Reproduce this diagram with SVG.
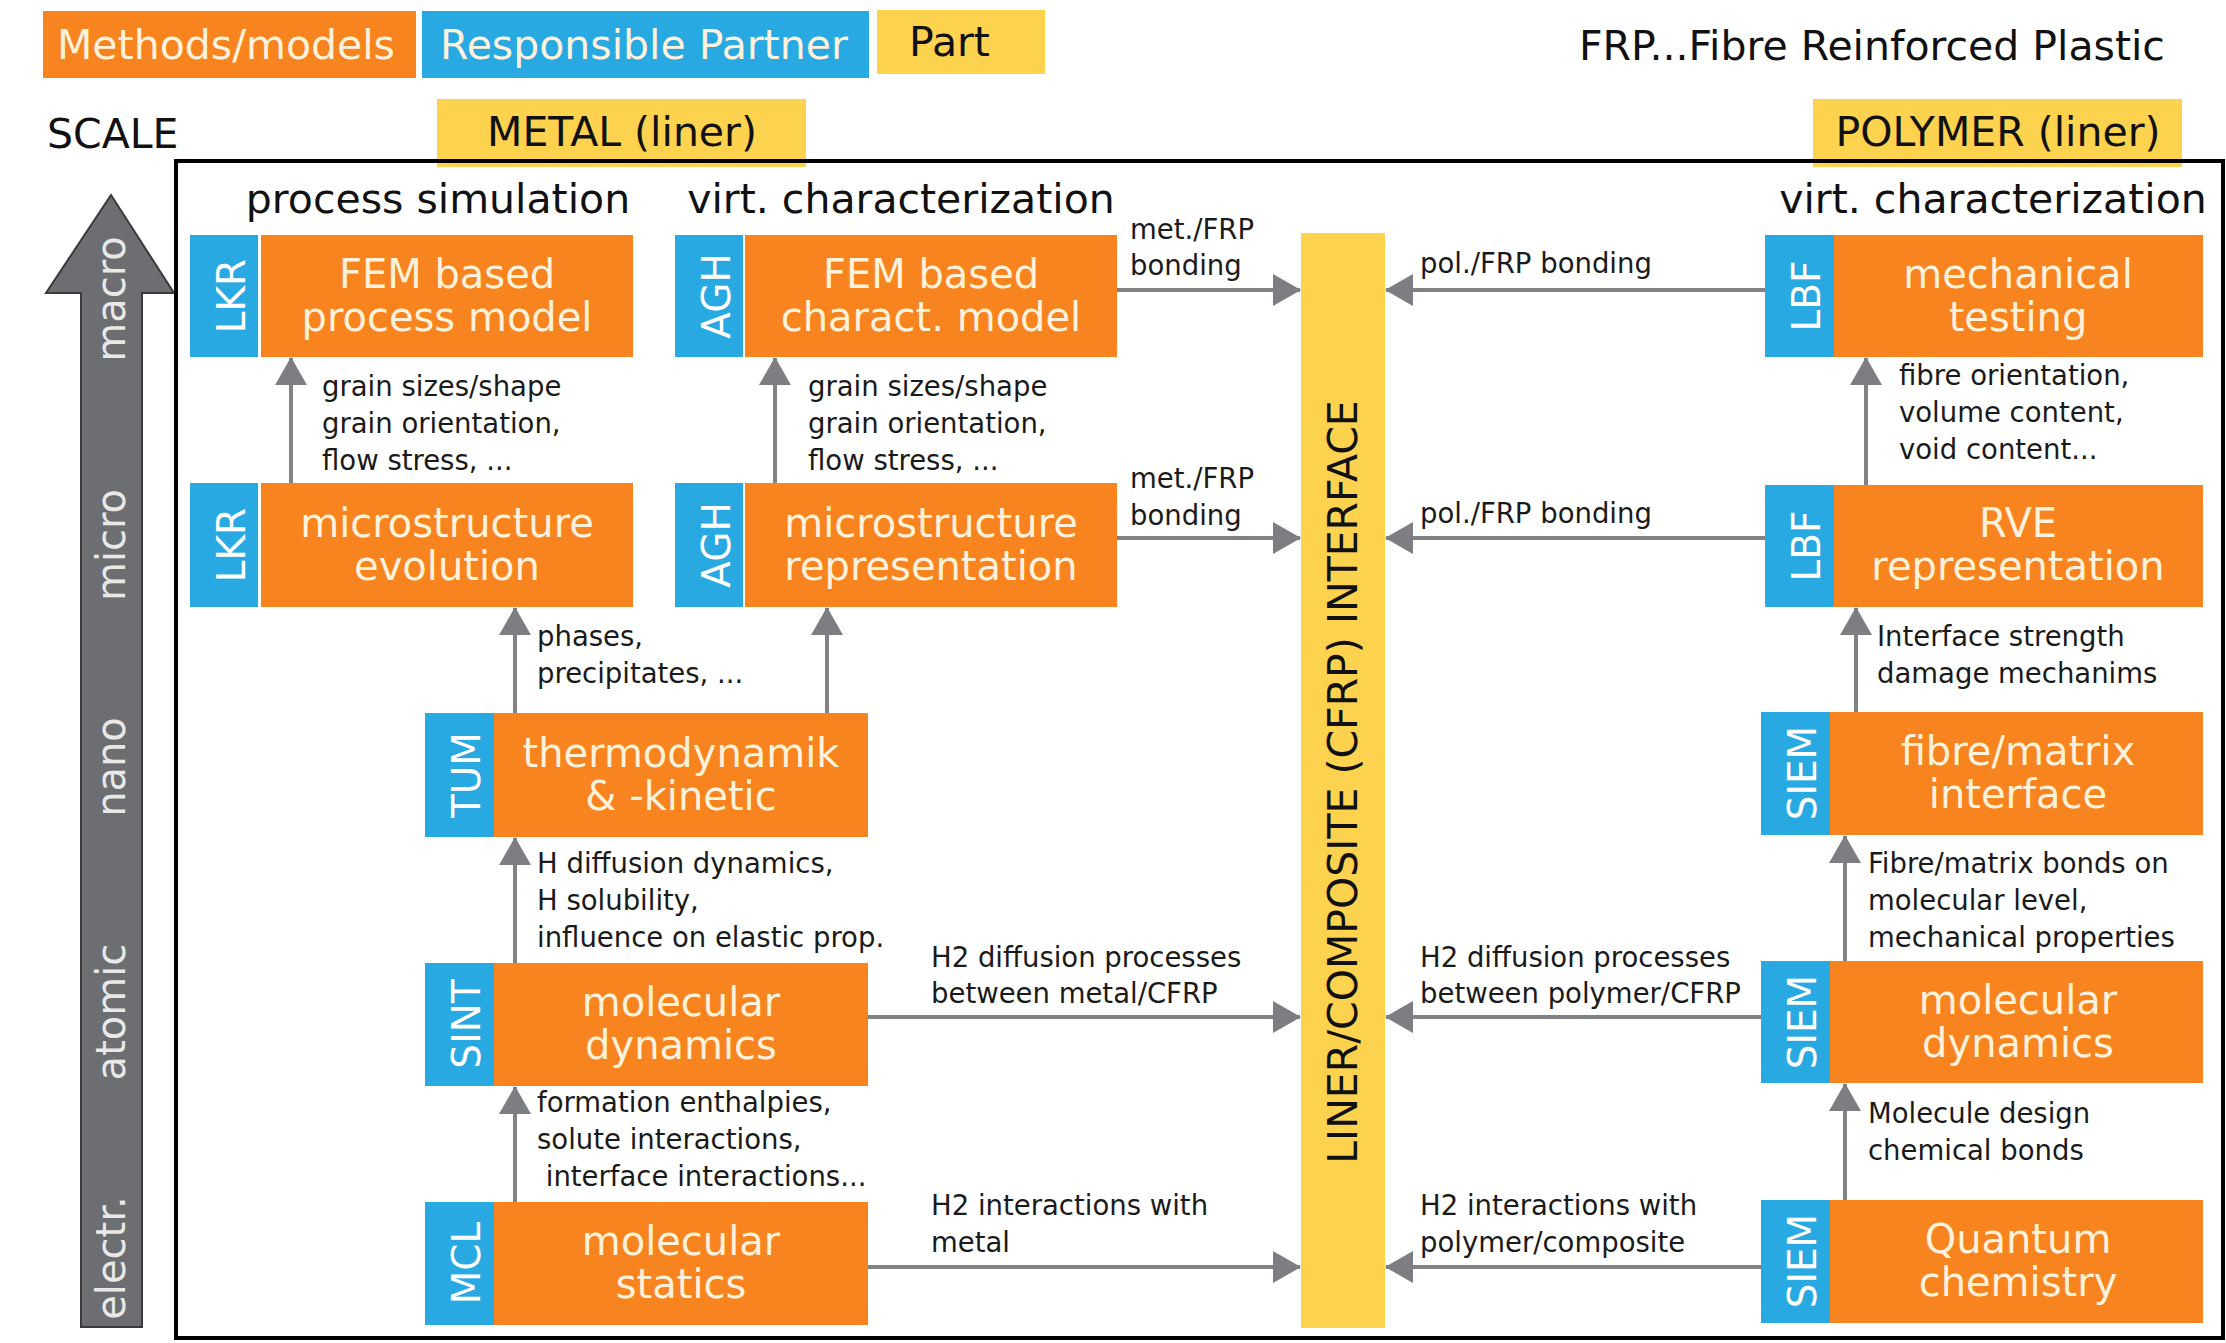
<svg xmlns="http://www.w3.org/2000/svg" width="2226" height="1343" viewBox="0 0 2226 1343">
<style>
text{font-family:"DejaVu Sans","Liberation Sans",sans-serif}
.or{fill:#f7841f}
.bl{fill:#29a9e1}
.ye{fill:#fdd24f}
.nt{font-size:40px;fill:#fff2dc;text-anchor:middle}
.tg{font-size:39px;fill:#ffffff;text-anchor:middle}
.lg{font-size:41px;fill:#fff2dc}
.hd{font-size:41px;fill:#111}
.lb{font-size:27.5px;fill:#1a1a1a}
.sc{font-size:40px;fill:#e8e8e8;text-anchor:middle}
.cn{stroke:#808285;stroke-width:4;fill:none}
</style>
<defs>
<marker id="ah" markerUnits="userSpaceOnUse" markerWidth="28" markerHeight="32" viewBox="0 0 28 32" refX="27" refY="16" orient="auto">
<path d="M0,0 L28,16 L0,32 Z" fill="#7c7e82"/>
</marker>
</defs>

<g id="legend">
<rect class="or" x="43" y="11" width="373" height="67"/>
<text class="lg" x="57" y="59">Methods/models</text>
<rect class="bl" x="422" y="11" width="447" height="67"/>
<text class="lg" x="440" y="59">Responsible Partner</text>
<rect class="ye" x="877" y="10" width="168" height="64"/>
<text class="hd" x="909" y="56">Part</text>
<text class="hd" x="1579" y="60">FRP...Fibre Reinforced Plastic</text>
</g>

<g id="scale">
<text class="hd" x="47" y="148">SCALE</text>
<polygon points="111,195 174,293 142,293 142,1327 81,1327 81,293 46,293" fill="#6d6e71" stroke="#3a3a3a" stroke-width="2"/>
<text class="sc" transform="translate(125,299) rotate(-90)">macro</text>
<text class="sc" transform="translate(125,545) rotate(-90)">micro</text>
<text class="sc" transform="translate(125,767) rotate(-90)">nano</text>
<text class="sc" transform="translate(125,1012) rotate(-90)">atomic</text>
<text class="sc" transform="translate(125,1258) rotate(-90)">electr.</text>
</g>

<g id="parts">
<rect class="ye" x="437" y="99" width="369" height="68"/>
<text class="hd" x="622" y="146" text-anchor="middle">METAL (liner)</text>
<rect class="ye" x="1813" y="99" width="369" height="68"/>
<text class="hd" x="1998" y="146" text-anchor="middle">POLYMER (liner)</text>
</g>

<rect id="frame" x="176" y="161" width="2047" height="1177" fill="none" stroke="#000" stroke-width="4"/>

<g id="headers">
<text class="hd" x="438" y="213" text-anchor="middle">process simulation</text>
<text class="hd" x="901" y="213" text-anchor="middle">virt. characterization</text>
<text class="hd" x="1993" y="213" text-anchor="middle">virt. characterization</text>
</g>

<g id="interface">
<rect class="ye" x="1301" y="233" width="84" height="1095"/>
<text class="hd" text-anchor="middle" transform="translate(1357,782) rotate(-90)">LINER/COMPOSITE (CFRP) INTERFACE</text>
</g>

<g id="lkr-fem">
<rect class="bl" x="190" y="235" width="68" height="122"/>
<text class="tg" transform="translate(245,296) rotate(-90)">LKR</text>
<rect class="or" x="261" y="235" width="372" height="122"/>
<text class="nt" x="447" y="288">FEM based</text>
<text class="nt" x="447" y="331">process model</text>
</g>
<g id="agh-fem">
<rect class="bl" x="675" y="235" width="68" height="122"/>
<text class="tg" transform="translate(730,296) rotate(-90)">AGH</text>
<rect class="or" x="745" y="235" width="372" height="122"/>
<text class="nt" x="931" y="288">FEM based</text>
<text class="nt" x="931" y="331">charact. model</text>
</g>
<g id="lbf-mech">
<rect class="bl" x="1765" y="235" width="69" height="122"/>
<text class="tg" transform="translate(1820,296) rotate(-90)">LBF</text>
<rect class="or" x="1834" y="235" width="369" height="122"/>
<text class="nt" x="2018" y="288">mechanical</text>
<text class="nt" x="2018" y="331">testing</text>
</g>

<g id="lkr-micro">
<rect class="bl" x="190" y="483" width="68" height="124"/>
<text class="tg" transform="translate(245,545) rotate(-90)">LKR</text>
<rect class="or" x="261" y="483" width="372" height="124"/>
<text class="nt" x="447" y="537">microstructure</text>
<text class="nt" x="447" y="580">evolution</text>
</g>
<g id="agh-micro">
<rect class="bl" x="675" y="483" width="68" height="124"/>
<text class="tg" transform="translate(730,545) rotate(-90)">AGH</text>
<rect class="or" x="745" y="483" width="372" height="124"/>
<text class="nt" x="931" y="537">microstructure</text>
<text class="nt" x="931" y="580">representation</text>
</g>
<g id="lbf-rve">
<rect class="bl" x="1765" y="485" width="69" height="122"/>
<text class="tg" transform="translate(1820,546) rotate(-90)">LBF</text>
<rect class="or" x="1834" y="485" width="369" height="122"/>
<text class="nt" x="2018" y="537">RVE</text>
<text class="nt" x="2018" y="580">representation</text>
</g>

<g id="tum">
<rect class="bl" x="425" y="713" width="69" height="124"/>
<text class="tg" transform="translate(480,775) rotate(-90)">TUM</text>
<rect class="or" x="494" y="713" width="374" height="124"/>
<text class="nt" x="681" y="767">thermodynamik</text>
<text class="nt" x="681" y="810">&amp; -kinetic</text>
</g>
<g id="siem-fm">
<rect class="bl" x="1761" y="712" width="69" height="123"/>
<text class="tg" transform="translate(1816,773) rotate(-90)">SIEM</text>
<rect class="or" x="1830" y="712" width="373" height="123"/>
<text class="nt" x="2018" y="765">fibre/matrix</text>
<text class="nt" x="2018" y="808">interface</text>
</g>

<g id="sint">
<rect class="bl" x="425" y="963" width="69" height="123"/>
<text class="tg" transform="translate(480,1024) rotate(-90)">SINT</text>
<rect class="or" x="494" y="963" width="374" height="123"/>
<text class="nt" x="681" y="1016">molecular</text>
<text class="nt" x="681" y="1059">dynamics</text>
</g>
<g id="siem-md">
<rect class="bl" x="1761" y="961" width="69" height="122"/>
<text class="tg" transform="translate(1816,1022) rotate(-90)">SIEM</text>
<rect class="or" x="1830" y="961" width="373" height="122"/>
<text class="nt" x="2018" y="1014">molecular</text>
<text class="nt" x="2018" y="1057">dynamics</text>
</g>

<g id="mcl">
<rect class="bl" x="425" y="1202" width="69" height="123"/>
<text class="tg" transform="translate(480,1263) rotate(-90)">MCL</text>
<rect class="or" x="494" y="1202" width="374" height="123"/>
<text class="nt" x="681" y="1255">molecular</text>
<text class="nt" x="681" y="1298">statics</text>
</g>
<g id="siem-qc">
<rect class="bl" x="1761" y="1200" width="69" height="123"/>
<text class="tg" transform="translate(1816,1261) rotate(-90)">SIEM</text>
<rect class="or" x="1830" y="1200" width="373" height="123"/>
<text class="nt" x="2018" y="1253">Quantum</text>
<text class="nt" x="2018" y="1296">chemistry</text>
</g>

<g id="connectors">
<line class="cn" x1="291" y1="483" x2="291" y2="358" marker-end="url(#ah)"/>
<line class="cn" x1="775" y1="483" x2="775" y2="358" marker-end="url(#ah)"/>
<line class="cn" x1="515" y1="713" x2="515" y2="608" marker-end="url(#ah)"/>
<line class="cn" x1="827" y1="713" x2="827" y2="608" marker-end="url(#ah)"/>
<line class="cn" x1="515" y1="963" x2="515" y2="838" marker-end="url(#ah)"/>
<line class="cn" x1="515" y1="1202" x2="515" y2="1087" marker-end="url(#ah)"/>
<line class="cn" x1="1866" y1="485" x2="1866" y2="358" marker-end="url(#ah)"/>
<line class="cn" x1="1856" y1="712" x2="1856" y2="608" marker-end="url(#ah)"/>
<line class="cn" x1="1845" y1="961" x2="1845" y2="836" marker-end="url(#ah)"/>
<line class="cn" x1="1845" y1="1200" x2="1845" y2="1084" marker-end="url(#ah)"/>
<line class="cn" x1="1117" y1="290" x2="1300" y2="290" marker-end="url(#ah)"/>
<line class="cn" x1="1765" y1="290" x2="1386" y2="290" marker-end="url(#ah)"/>
<line class="cn" x1="1117" y1="538" x2="1300" y2="538" marker-end="url(#ah)"/>
<line class="cn" x1="1765" y1="538" x2="1386" y2="538" marker-end="url(#ah)"/>
<line class="cn" x1="868" y1="1017" x2="1300" y2="1017" marker-end="url(#ah)"/>
<line class="cn" x1="1761" y1="1017" x2="1386" y2="1017" marker-end="url(#ah)"/>
<line class="cn" x1="868" y1="1267" x2="1300" y2="1267" marker-end="url(#ah)"/>
<line class="cn" x1="1761" y1="1267" x2="1386" y2="1267" marker-end="url(#ah)"/>
</g>

<g id="labels">
<text class="lb" x="322" y="396">grain sizes/shape</text>
<text class="lb" x="322" y="433">grain orientation,</text>
<text class="lb" x="322" y="470">flow stress, ...</text>
<text class="lb" x="808" y="396">grain sizes/shape</text>
<text class="lb" x="808" y="433">grain orientation,</text>
<text class="lb" x="808" y="470">flow stress, ...</text>
<text class="lb" x="537" y="646">phases,</text>
<text class="lb" x="537" y="683">precipitates, ...</text>
<text class="lb" x="537" y="873">H diffusion dynamics,</text>
<text class="lb" x="537" y="910">H solubility,</text>
<text class="lb" x="537" y="947">influence on elastic prop.</text>
<text class="lb" x="537" y="1112">formation enthalpies,</text>
<text class="lb" x="537" y="1149">solute interactions,</text>
<text class="lb" x="537" y="1186" xml:space="preserve"> interface interactions...</text>
<text class="lb" x="1899" y="385">fibre orientation,</text>
<text class="lb" x="1899" y="422">volume content,</text>
<text class="lb" x="1899" y="459">void content...</text>
<text class="lb" x="1877" y="646">Interface strength</text>
<text class="lb" x="1877" y="683">damage mechanims</text>
<text class="lb" x="1868" y="873">Fibre/matrix bonds on</text>
<text class="lb" x="1868" y="910">molecular level,</text>
<text class="lb" x="1868" y="947">mechanical properties</text>
<text class="lb" x="1868" y="1123">Molecule design</text>
<text class="lb" x="1868" y="1160">chemical bonds</text>
<text class="lb" x="1130" y="239">met./FRP</text>
<text class="lb" x="1130" y="275">bonding</text>
<text class="lb" x="1420" y="273">pol./FRP bonding</text>
<text class="lb" x="1130" y="488">met./FRP</text>
<text class="lb" x="1130" y="525">bonding</text>
<text class="lb" x="1420" y="523">pol./FRP bonding</text>
<text class="lb" x="931" y="967">H2 diffusion processes</text>
<text class="lb" x="931" y="1003">between metal/CFRP</text>
<text class="lb" x="1420" y="967">H2 diffusion processes</text>
<text class="lb" x="1420" y="1003">between polymer/CFRP</text>
<text class="lb" x="931" y="1215">H2 interactions with</text>
<text class="lb" x="931" y="1252">metal</text>
<text class="lb" x="1420" y="1215">H2 interactions with</text>
<text class="lb" x="1420" y="1252">polymer/composite</text>
</g>
</svg>
